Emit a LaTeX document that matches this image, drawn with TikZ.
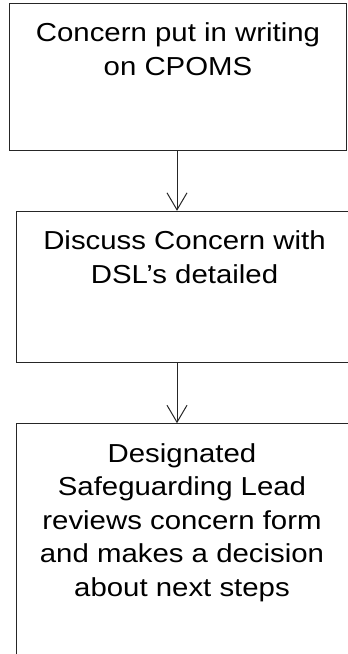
\documentclass[tikz,border=0pt]{standalone}
\usepackage{fontspec}
\usepackage{graphicx}
\setmainfont{Liberation Sans}
\usetikzlibrary{arrows.meta}
\newcommand\stretchtext[1]{\scalebox{1.13}[1]{\begin{tabular}[t]{@{}c@{}}#1\end{tabular}}}
\begin{document}
\begin{tikzpicture}[x=1pt,y=-1pt,
  box/.style={draw=black!85,line width=1pt,inner sep=0pt},
  txt/.style={anchor=base,inner sep=0pt,font=\fontsize{26}{33.5}\selectfont},
  arr/.style={draw=black!85,line width=1pt,-{Straight Barb[length=17pt,width=20pt]}}]
\useasboundingbox (0,0) rectangle (348,654);
\clip (0,0) rectangle (348,654);
\node[box,minimum width=337pt,minimum height=146.7pt] (b1) at (178,76.65) {};
\node[box,minimum width=364pt,minimum height=151.4pt] (b2) at (198,287) {};
\node[box,minimum width=364pt,minimum height=296.3pt] (b3) at (198,571.85) {};
\node[txt] (t1) at (178,41.7) {\stretchtext{Concern put in writing\\on CPOMS}};
\node[txt] (t2) at (184.5,249.7) {\stretchtext{Discuss Concern with\\DSL’s detailed}};
\node[txt] (t3) at (182,462.1) {\stretchtext{Designated\\Safeguarding Lead\\reviews concern form\\and makes a decision\\about next steps}};
\coordinate (ax) at (177,0);
\draw[arr] (b1.south -| ax) -- (b2.north -| ax);
\draw[arr] (b2.south -| ax) -- (b3.north -| ax);
\end{tikzpicture}
\end{document}
